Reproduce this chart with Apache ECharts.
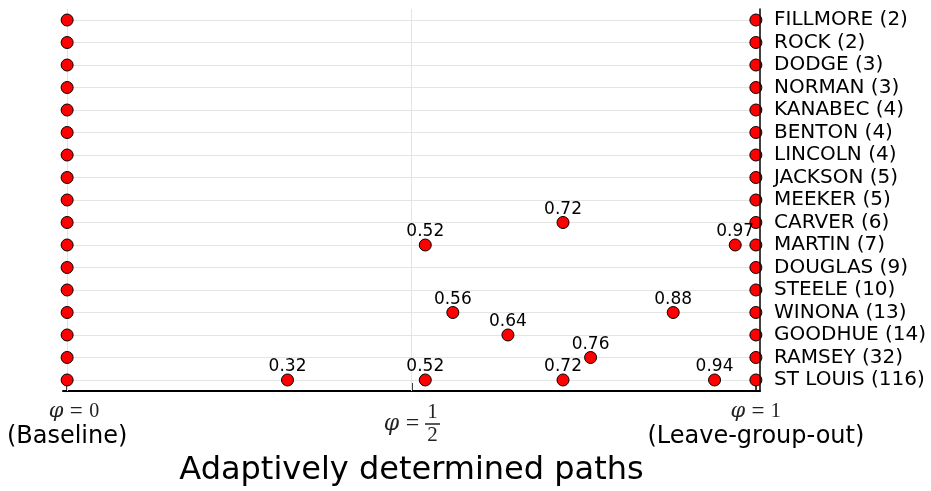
<!DOCTYPE html>
<html>
<head>
<meta charset="utf-8">
<script src="https://cdn.jsdelivr.net/npm/echarts@6/dist/echarts.min.js"></script>
<style>
  html, body { margin: 0; padding: 0; background: #fff; }
  #chart { width: 931px; height: 491px; }
</style>
</head>
<body>
<div id="chart"></div>
<script>
// Counties (number of observations), top to bottom
const countyLabels = [
  'FILLMORE (2)', 'ROCK (2)', 'DODGE (3)', 'NORMAN (3)', 'KANABEC (4)',
  'BENTON (4)', 'LINCOLN (4)', 'JACKSON (5)', 'MEEKER (5)', 'CARVER (6)',
  'MARTIN (7)', 'DOUGLAS (9)', 'STEELE (10)', 'WINONA (13)', 'GOODHUE (14)',
  'RAMSEY (32)', 'ST LOUIS (116)'
];

// Path endpoints: baseline and leave-group-out
const phiBaseline = 0;
const phiLeaveOut = 1;

// Intermediate phi values chosen by the adaptive path for each county
const pathCounties = [
  'CARVER (6)',
  'MARTIN (7)', 'MARTIN (7)',
  'WINONA (13)', 'WINONA (13)',
  'GOODHUE (14)',
  'RAMSEY (32)',
  'ST LOUIS (116)', 'ST LOUIS (116)', 'ST LOUIS (116)', 'ST LOUIS (116)'
];
const pathPhi = [
  0.72,
  0.52, 0.97,
  0.56, 0.88,
  0.64,
  0.76,
  0.32, 0.52, 0.72, 0.94
];

// x tick positions and their captions
const xTicks = [0, 0.5, 1];
const xTickNotes = ['(Baseline)', '', '(Leave-group-out)'];

const rowIndex = name => countyLabels.indexOf(name);
const rows = countyLabels.map((_, i) => i);

const endpointData = [];
rows.forEach(i => {
  endpointData.push([phiBaseline, i]);
  endpointData.push([phiLeaveOut, i]);
});
const pathData = pathPhi.map((v, k) => [v, rowIndex(pathCounties[k])]);

const gridColor = '#e4e4e4';
const gridLines = []
  .concat(rows.map(i => ({ yAxis: i })))
  .concat([{ xAxis: 0 }, { xAxis: 0.5 }]);

const serif = '"Liberation Serif", "DejaVu Serif", serif';
const phiFont = '"DejaVu Serif", serif';
const mathColor = '#222';

function xLabel(v) {
  if (v === 0.5) {
    // phi = 1/2 drawn as a stacked fraction
    return '{gap| }\n{pad|}{num|1}\n{fphi|φ}{feq|=}{bar|}\n{pad|}{num|2}';
  }
  const idx = xTicks.indexOf(v);
  const lead = v === 0 ? '{lead|}' : '';
  return lead + '{phi|φ}{eq|=}{one|' + v + '}\n{note|' + xTickNotes[idx] + '}';
}

const chart = echarts.init(document.getElementById('chart'), null, { renderer: 'canvas' });

chart.setOption({
  animation: false,
  backgroundColor: '#fff',
  grid: { left: 63, right: 171, top: 9, bottom: 100, outerBoundsMode: 'none', containLabel: false },
  xAxis: {
    type: 'value',
    min: -0.006,
    max: 1.006,
    name: 'Adaptively determined paths',
    nameLocation: 'middle',
    nameGap: 64,
    nameTextStyle: { fontFamily: 'DejaVu Sans', fontSize: 32, color: '#000' },
    axisLine: { show: true, onZero: false, lineStyle: { color: '#000', width: 2 } },
    axisTick: {
      show: true, inside: true, length: 8,
      customValues: xTicks,
      lineStyle: { color: '#000', width: 1.5 }
    },
    splitLine: { show: false },
    axisLabel: {
      customValues: xTicks,
      margin: 10,
      formatter: xLabel,
      rich: {
        gap: { fontSize: 2, lineHeight: 6 },
        lead: { width: 14 },
        pad: { width: 42, lineHeight: 11, fontSize: 19, fontFamily: serif },
        phi: { fontFamily: phiFont, fontStyle: 'italic', fontSize: 21, width: 16, lineHeight: 22, color: mathColor },
        eq: { fontFamily: serif, fontSize: 23, width: 24, align: 'center', lineHeight: 22, color: mathColor },
        one: { fontFamily: serif, fontSize: 20, width: 12, align: 'center', lineHeight: 22, color: mathColor },
        fphi: { fontFamily: phiFont, fontStyle: 'italic', fontSize: 22, width: 17, lineHeight: 11, color: mathColor },
        feq: { fontFamily: serif, fontSize: 24, width: 25, align: 'center', lineHeight: 11, color: mathColor },
        num: { fontFamily: serif, fontSize: 21, width: 15, align: 'center', lineHeight: 11.5, color: mathColor },
        bar: { width: 15, height: 1.5, backgroundColor: mathColor, lineHeight: 11 },
        note: { fontFamily: 'DejaVu Sans', fontSize: 24, lineHeight: 28, color: '#000' }
      }
    }
  },
  yAxis: {
    type: 'value',
    inverse: true,
    min: -0.49,
    max: 16.49,
    position: 'right',
    z: 5,
    axisLine: { show: true, onZero: false, lineStyle: { color: '#000', width: 1.5 } },
    axisTick: { show: false },
    splitLine: { show: false },
    axisLabel: {
      customValues: rows,
      margin: 14,
      formatter: v => countyLabels[v],
      fontFamily: 'DejaVu Sans',
      fontSize: 20,
      color: '#000'
    }
  },
  series: [
    {
      // light grid lines through each county row and at phi = 0, 1/2
      type: 'scatter',
      data: [],
      z: 1,
      silent: true,
      markLine: {
        z: 1,
        silent: true,
        symbol: 'none',
        label: { show: false },
        lineStyle: { color: gridColor, width: 1, type: 'solid' },
        animation: false,
        data: gridLines
      }
    },
    {
      type: 'scatter',
      data: endpointData,
      z: 3,
      clip: true,
      symbol: 'circle',
      symbolSize: 12,
      itemStyle: { color: '#ff0000', borderColor: '#000', borderWidth: 1, opacity: 1 }
    },
    {
      type: 'scatter',
      data: pathData,
      z: 3,
      clip: true,
      symbol: 'circle',
      symbolSize: 12,
      itemStyle: { color: '#ff0000', borderColor: '#000', borderWidth: 1, opacity: 1 },
      label: {
        show: true,
        position: 'top',
        distance: 2,
        offset: [0, 4],
        formatter: p => p.value[0].toFixed(2),
        fontFamily: 'DejaVu Sans',
        fontSize: 17,
        color: '#000'
      }
    }
  ]
});
</script>
</body>
</html>
